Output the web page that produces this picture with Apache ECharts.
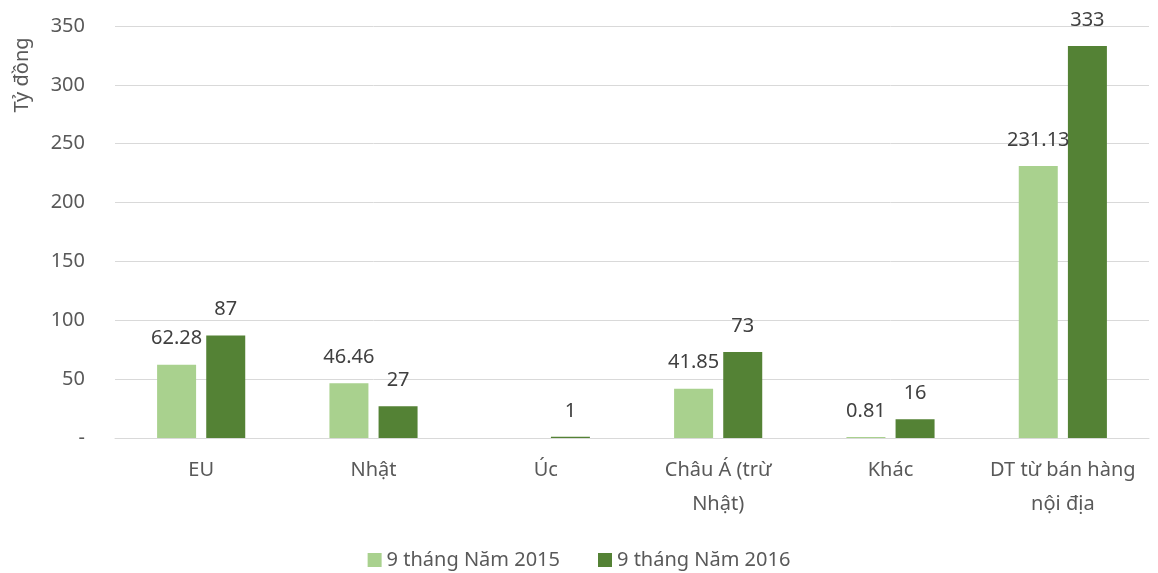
<!DOCTYPE html>
<html><head><meta charset="utf-8">
<script src="https://cdn.jsdelivr.net/npm/echarts@6/dist/echarts.min.js"></script>
<style>html,body{margin:0;padding:0;background:#fff}#c{width:1158px;height:573px}</style>
</head><body><div id="c"></div>
<script>
const categories = ['EU', 'Nhật', 'Úc', 'Châu Á (trừ\nNhật)', 'Khác', 'DT từ bán hàng\nnội địa'];
const seriesNames = ['9 tháng Năm 2015', '9 tháng Năm 2016'];
const values2015 = [62.28, 46.46, null, 41.85, 0.81, 231.13];
const values2016 = [87, 27, 1, 73, 16, 333];
const yTicks = [0, 50, 100, 150, 200, 250, 300, 350];

const FONT = 'Noto Sans';
const chart = echarts.init(document.getElementById('c'));
const lbl = {show: true, position: 'top', distance: 16, color: '#404040', fontSize: 20, fontFamily: FONT};
chart.setOption({
  animation: false,
  textStyle: {fontFamily: FONT},
  grid: {left: 115, right: 9, top: 26, bottom: 135},
  legend: {
    top: 545, left: 'center', itemWidth: 14, itemHeight: 14, itemGap: 38,
    icon: 'rect',
    textStyle: {color: '#595959', fontSize: 20, fontFamily: FONT},
    data: seriesNames
  },
  graphic: [{
    type: 'text', rotation: Math.PI / 2,
    style: {text: 'Tỷ đồng', fill: '#595959', font: '20px "Noto Sans"', textAlign: 'center', textVerticalAlign: 'middle'},
    x: 22, y: 75
  }],
  xAxis: {
    type: 'category', data: categories,
    axisLine: {lineStyle: {color: '#D9D9D9', width: 1}},
    axisTick: {show: false},
    axisLabel: {color: '#595959', fontSize: 20, fontFamily: FONT, lineHeight: 34, margin: 15, interval: 0}
  },
  yAxis: {
    type: 'value', min: 0, max: 350, interval: 50,
    axisLine: {show: false}, axisTick: {show: false},
    splitLine: {lineStyle: {color: '#D9D9D9', width: 1}},
    axisLabel: {color: '#595959', fontSize: 20, fontFamily: FONT, margin: 30,
      formatter: v => yTicks.indexOf(v) === 0 ? '-' : String(v)}
  },
  series: [
    {name: seriesNames[0], type: 'bar', data: values2015, barWidth: 39, barGap: '26%',
     itemStyle: {color: '#A9D18E'}, label: lbl},
    {name: seriesNames[1], type: 'bar', data: values2016, barWidth: 39, barGap: '26%',
     itemStyle: {color: '#548235'}, label: lbl}
  ]
});
</script></body></html>
